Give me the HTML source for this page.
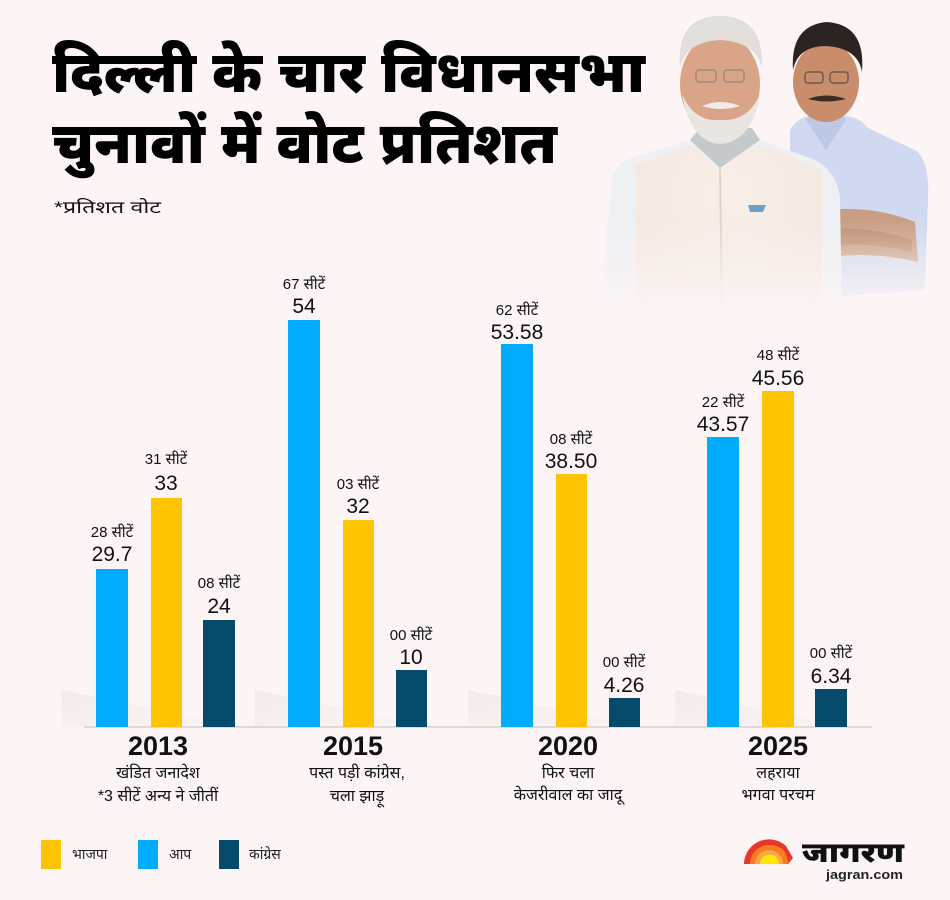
<!DOCTYPE html>
<html>
<head>
<meta charset="utf-8">
<style>
  html,body{margin:0;padding:0;background:#fdf5f5;}
  body{width:950px;height:900px;overflow:hidden;}
  svg{display:block;}
  .dev{font-family:"Liberation Sans","Noto Sans Devanagari","Lohit Devanagari","Mukta","FreeSans",sans-serif;}
</style>
</head>
<body>
<svg width="950" height="900" viewBox="0 0 950 900" xmlns="http://www.w3.org/2000/svg">
  <defs>
    <linearGradient id="fade" x1="0" y1="0" x2="0" y2="1">
      <stop offset="0" stop-color="#fdf5f5" stop-opacity="0"/>
      <stop offset="1" stop-color="#fdf5f5" stop-opacity="1"/>
    </linearGradient>
    <linearGradient id="shad" x1="0" y1="0" x2="1" y2="1">
      <stop offset="0" stop-color="#c8c4c4" stop-opacity="0.22"/>
      <stop offset="1" stop-color="#c8c4c4" stop-opacity="0"/>
    </linearGradient>
    <radialGradient id="vest" cx="0.5" cy="0.3" r="0.8">
      <stop offset="0" stop-color="#f8efe8"/>
      <stop offset="1" stop-color="#f1e6de"/>
    </radialGradient>
  </defs>
  <rect width="950" height="900" fill="#fdf5f5"/>

  <!-- Photos (approximate) -->
  <g>
    <!-- Kejriwal -->
    <path d="M790 130 Q800 112 826 116 Q856 112 868 128 L915 150 Q930 160 928 200 L925 290 L790 300 Z" fill="#d0d9ef"/>
    <path d="M806 120 L826 150 L846 120 L840 112 L812 112 Z" fill="#bdc8e5"/>
    <path d="M795 215 Q860 200 915 222 L918 262 Q860 248 800 262 Z" fill="#c99e84"/>
    <path d="M800 232 Q860 222 912 240 L912 252 Q860 238 800 250 Z" fill="#bb8e72"/>
    <ellipse cx="826" cy="82" rx="33" ry="40" fill="#c98d6c"/>
    <path d="M793 70 Q790 26 826 22 Q866 24 862 72 Q858 48 826 46 Q798 46 793 70 Z" fill="#2b2421"/>
    <path d="M808 99 Q826 92 846 99 Q826 104 808 99 Z" fill="#3a2c26"/>
    <rect x="805" y="72" width="18" height="11" rx="3" fill="none" stroke="#6b5a50" stroke-width="1.5"/>
    <rect x="830" y="72" width="18" height="11" rx="3" fill="none" stroke="#6b5a50" stroke-width="1.5"/>
    <!-- Modi -->
    <path d="M612 175 Q620 160 640 155 L690 140 L760 140 L815 160 Q838 172 840 200 L842 310 L600 310 Z" fill="#eef0f4"/>
    <path d="M636 165 L690 145 L760 145 L822 168 L822 310 L636 310 Z" fill="url(#vest)"/>
    <path d="M690 140 L720 168 L760 140 L752 128 L700 128 Z" fill="#c4c9cc"/>
    <path d="M720 168 L722 310" stroke="#e2d4c8" stroke-width="2"/>
    <path d="M748 205 L766 205 L763 212 L750 212 Z" fill="#6fa0c8"/>
    <ellipse cx="720" cy="84" rx="40" ry="50" fill="#d9a488"/>
    <path d="M680 67 Q676 16 720 16 Q764 16 762 68 Q756 42 720 40 Q686 42 680 67 Z" fill="#e2deda"/>
    <path d="M682 94 Q690 142 720 144 Q752 142 760 94 Q748 122 720 120 Q694 122 682 94 Z" fill="#e9e5e1"/>
    <path d="M702 106 Q720 98 740 106 Q720 112 702 106 Z" fill="#efebe7"/>
    <rect x="696" y="70" width="20" height="12" rx="3" fill="none" stroke="#9b8b80" stroke-width="1.5"/>
    <rect x="724" y="70" width="20" height="12" rx="3" fill="none" stroke="#9b8b80" stroke-width="1.5"/>
    <rect x="590" y="220" width="350" height="95" fill="url(#fade)"/>
  </g>

  <!-- Title -->
  <text class="dev" x="52" y="92" font-size="58" font-weight="900" fill="#000" textLength="593" lengthAdjust="spacingAndGlyphs">दिल्ली के चार विधानसभा</text>
  <text class="dev" x="52" y="163" font-size="58" font-weight="900" fill="#000" textLength="505" lengthAdjust="spacingAndGlyphs">चुनावों में वोट प्रतिशत</text>
  <text class="dev" x="54" y="213" font-size="17" fill="#111" textLength="107" lengthAdjust="spacingAndGlyphs">*प्रतिशत वोट</text>

  <!-- bar shadows -->
  <polygon points="62,690 240,727 62,727" fill="url(#shad)"/>
  <polygon points="255,690 430,727 255,727" fill="url(#shad)"/>
  <polygon points="468,690 645,727 468,727" fill="url(#shad)"/>
  <polygon points="675,690 850,727 675,727" fill="url(#shad)"/>

  <!-- baseline -->
  <line x1="84" y1="727" x2="872" y2="727" stroke="#dedada" stroke-width="2"/>

  <!-- Bars -->
  <g>
    <rect x="96" y="569" width="32" height="158" fill="#00acfb"/>
    <rect x="151" y="498" width="31" height="229" fill="#fec401"/>
    <rect x="203" y="620" width="32" height="107" fill="#044b6c"/>
    <rect x="288" y="320" width="32" height="407" fill="#00acfb"/>
    <rect x="343" y="520" width="31" height="207" fill="#fec401"/>
    <rect x="396" y="670" width="31" height="57" fill="#044b6c"/>
    <rect x="501" y="344" width="32" height="383" fill="#00acfb"/>
    <rect x="556" y="474" width="31" height="253" fill="#fec401"/>
    <rect x="609" y="698" width="31" height="29" fill="#044b6c"/>
    <rect x="707" y="437" width="32" height="290" fill="#00acfb"/>
    <rect x="762" y="391" width="32" height="336" fill="#fec401"/>
    <rect x="815" y="689" width="32" height="38" fill="#044b6c"/>
  </g>

  <!-- Value labels -->
  <g class="dev" fill="#111" text-anchor="middle">
    <g font-size="15">
      <text x="112" y="537">28 सीटें</text>
      <text x="166" y="464">31 सीटें</text>
      <text x="219" y="588">08 सीटें</text>
      <text x="304" y="289">67 सीटें</text>
      <text x="358" y="489">03 सीटें</text>
      <text x="411" y="640">00 सीटें</text>
      <text x="517" y="315">62 सीटें</text>
      <text x="571" y="444">08 सीटें</text>
      <text x="624" y="667">00 सीटें</text>
      <text x="723" y="407">22 सीटें</text>
      <text x="778" y="360">48 सीटें</text>
      <text x="831" y="658">00 सीटें</text>
    </g>
    <g font-size="21">
      <text x="112" y="561">29.7</text>
      <text x="166" y="490">33</text>
      <text x="219" y="613">24</text>
      <text x="304" y="313">54</text>
      <text x="358" y="513">32</text>
      <text x="411" y="664">10</text>
      <text x="517" y="339">53.58</text>
      <text x="571" y="468">38.50</text>
      <text x="624" y="692">4.26</text>
      <text x="723" y="431">43.57</text>
      <text x="778" y="385">45.56</text>
      <text x="831" y="683">6.34</text>
    </g>
  </g>

  <!-- Category labels -->
  <g class="dev" fill="#111" text-anchor="middle">
    <g font-size="27" font-weight="bold">
      <text x="158" y="755">2013</text>
      <text x="353" y="755">2015</text>
      <text x="568" y="755">2020</text>
      <text x="778" y="755">2025</text>
    </g>
    <g font-size="16">
      <text x="158" y="778">खंडित जनादेश</text>
      <text x="158" y="801">*3 सीटें अन्य ने जीतीं</text>
      <text x="357" y="778">पस्त पड़ी कांग्रेस,</text>
      <text x="357" y="801">चला झाड़ू</text>
      <text x="568" y="778">फिर चला</text>
      <text x="568" y="800">केजरीवाल का जादू</text>
      <text x="778" y="778">लहराया</text>
      <text x="778" y="800">भगवा परचम</text>
    </g>
  </g>

  <!-- Legend -->
  <rect x="41" y="840" width="20" height="29" fill="#fec401"/>
  <text class="dev" x="72" y="859" font-size="14" fill="#222">भाजपा</text>
  <rect x="138" y="840" width="20" height="29" fill="#00acfb"/>
  <text class="dev" x="169" y="859" font-size="14" fill="#222">आप</text>
  <rect x="219" y="840" width="20" height="29" fill="#044b6c"/>
  <text class="dev" x="249" y="859" font-size="14" fill="#222">कांग्रेस</text>

  <!-- Jagran logo -->
  <g>
    <path d="M744 864 A25 25 0 0 1 786 846 L793 858 L788 864 Z" fill="#e8362a"/>
    <path d="M750 864 A19 19 0 0 1 769 845 A19 19 0 0 1 785 852 L789 864 Z" fill="#f47d20"/>
    <path d="M755 864 A14 14 0 0 1 783 864 Z" fill="#f8a64a"/>
    <path d="M760 864 A9.5 9.5 0 0 1 779 864 Z" fill="#ffe600"/>
    <text class="dev" x="802" y="862" font-size="28" font-weight="900" fill="#111" textLength="102" lengthAdjust="spacingAndGlyphs">जागरण</text>
    <text x="826" y="879" font-family="Liberation Sans, sans-serif" font-size="13" font-weight="bold" fill="#222" textLength="77" lengthAdjust="spacingAndGlyphs">jagran.com</text>
  </g>
</svg>
</body>
</html>
